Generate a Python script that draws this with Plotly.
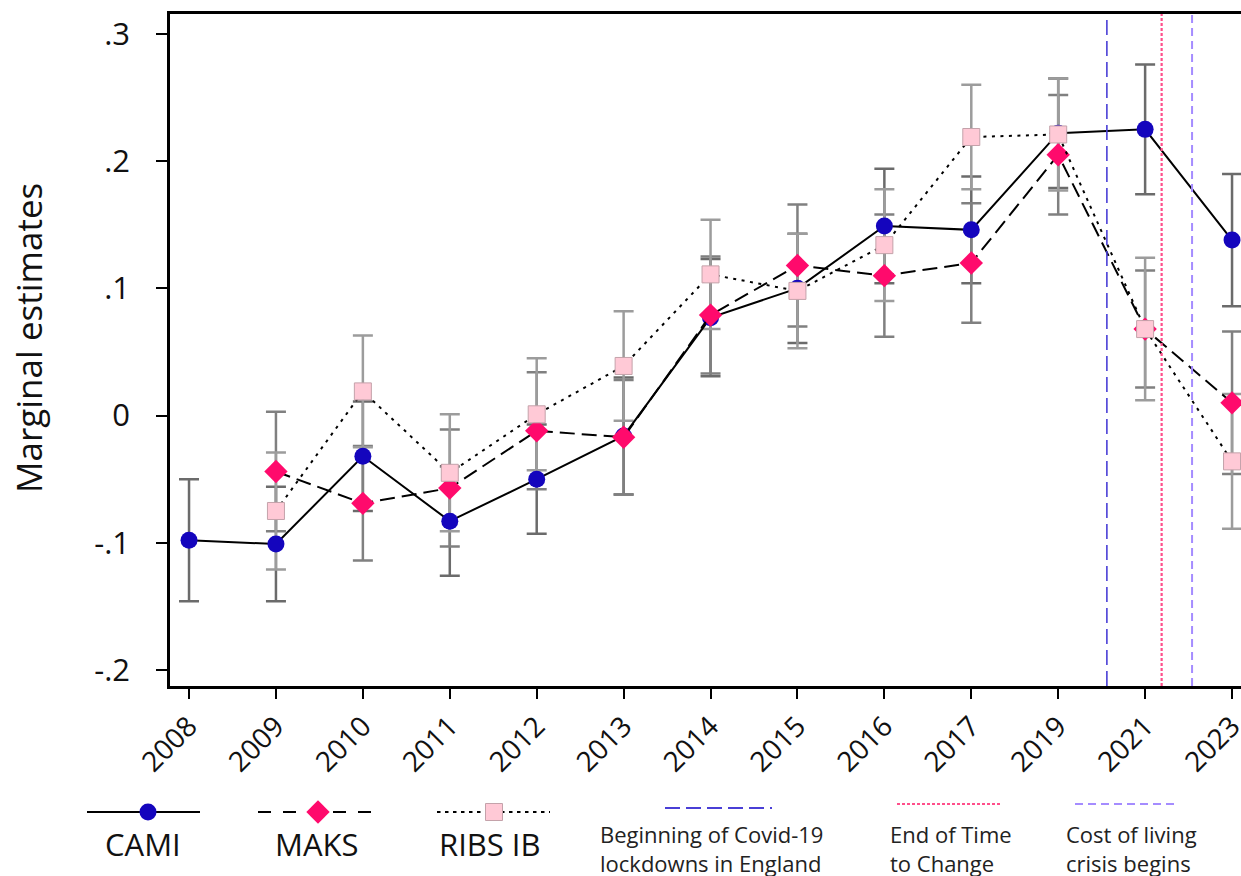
import plotly.graph_objects as go

# ---------------- data ----------------
years = ['2008', '2009', '2010', '2011', '2012', '2013', '2014', '2015', '2016', '2017', '2019', '2021', '2023']
cami = [-0.098, -0.101, -0.032, -0.083, -0.050, -0.016, 0.077, 0.100, 0.149, 0.146, 0.222, 0.225, 0.138]
cami_err = [0.048, 0.045, 0.043, 0.043, 0.043, 0.046, 0.046, 0.043, 0.045, 0.042, 0.043, 0.051, 0.052]
maks = [None, -0.044, -0.069, -0.057, -0.012, -0.017, 0.079, 0.118, 0.110, 0.120, 0.205, 0.068, 0.010]
maks_err = [None, 0.047, 0.045, 0.046, 0.046, 0.045, 0.046, 0.048, 0.048, 0.047, 0.047, 0.046, 0.056]
ribs = [None, -0.075, 0.019, -0.045, 0.001, 0.039, 0.111, 0.098, 0.134, 0.219, 0.221, 0.068, -0.036]
ribs_err = [None, 0.046, 0.044, 0.046, 0.044, 0.043, 0.043, 0.045, 0.044, 0.041, 0.044, 0.056, 0.053]

series_names = ['CAMI', 'MAKS', 'RIBS IB']
event_names = ['Beginning of Covid-19<br>lockdowns in England', 'End of Time<br>to Change',
               'Cost of living<br>crisis begins']
event_pos = [10.56, 11.19, 11.54]  # positions on the category axis (between 2019 and 2023)

y_ticks = [-0.2, -0.1, 0, 0.1, 0.2, 0.3]
y_tick_text = ['-.2', '-.1', '0', '.1', '.2', '.3']
y_title = 'Marginal estimates'

# ---------------- styles ----------------
FONT = 'Open Sans'
W, H = 1241, 876
styles = [
    dict(color='#1405bd', symbol='circle', size=17, dash='solid', ldash='solid', ecol='#6b6b6b',
         line=dict(width=0)),
    dict(color='#ff0a6c', symbol='diamond', size=18, dash='15px,7px', ldash='13px,12px', ecol='#808080',
         line=dict(width=0)),
    dict(color='#ffc9d6', symbol='square', size=17, dash='3px,5.5px', ldash='3.5px,4.5px', ecol='#9c9c9c',
         line=dict(width=1, color='#c4a2aa')),
]
event_styles = [
    dict(color='#4a3fd6', dash='15px,6px', width=1.6),
    dict(color='#ff4f8b', dash='3px,2px', width=2.2),
    dict(color='#a58cff', dash='8px,5px', width=2),
]

vals = [cami, maks, ribs]
errs = [cami_err, maks_err, ribs_err]

fig = go.Figure()

# error bars first (behind everything)
for v, e, st in zip(vals, errs, styles):
    fig.add_trace(go.Scatter(
        x=years, y=v, mode='markers', marker=dict(color='rgba(0,0,0,0)', size=1),
        error_y=dict(type='data', array=e, color=st['ecol'], thickness=2.5, width=10, visible=True),
        showlegend=False, hoverinfo='skip', xaxis='x', yaxis='y'))

# lines + markers
for v, st, name in zip(vals, styles, series_names):
    fig.add_trace(go.Scatter(
        x=years, y=v, mode='lines+markers', name=name,
        line=dict(color='black', width=2, dash=st['dash']),
        marker=dict(color=st['color'], symbol=st['symbol'], size=st['size'], line=st['line']),
        showlegend=False, connectgaps=False, xaxis='x', yaxis='y'))

# event vertical lines
for pos, est in zip(event_pos, event_styles):
    fig.add_shape(type='line', xref='x', yref='paper', x0=pos, x1=pos,
                  y0=190 / H, y1=(H - 14) / H,
                  line=dict(color=est['color'], dash=est['dash'], width=est['width']))

# ---------------- custom legend (pixel space axes) ----------------
leg_line_x = [(87, 200), (258, 378), (437, 550)]
leg_mark_x = [148, 318, 494]
leg_label_x = [143, 316, 490]
for (x0, x1), mx, lx, st, name in zip(leg_line_x, leg_mark_x, leg_label_x, styles, series_names):
    fig.add_trace(go.Scatter(x=[x0, x1], y=[812, 812], mode='lines',
                             line=dict(color='black', width=2.2, dash=st['ldash']),
                             xaxis='x2', yaxis='y2', showlegend=False, hoverinfo='skip', cliponaxis=False))
    fig.add_trace(go.Scatter(x=[mx], y=[812], mode='markers',
                             marker=dict(color=st['color'], symbol=st['symbol'], size=st['size'], line=st['line']),
                             xaxis='x2', yaxis='y2', showlegend=False, hoverinfo='skip', cliponaxis=False))
    fig.add_annotation(x=lx, y=844, xref='x2', yref='y2', text=name, showarrow=False,
                       font=dict(family=FONT, size=31, color='#111'), xanchor='center', yanchor='middle')

ev_line_x = [(665, 772), (897, 1002), (1075, 1178)]
ev_line_y = [808, 804, 804]
ev_label_x = [598, 888, 1064]
for (x0, x1), ly, lx, est, name in zip(ev_line_x, ev_line_y, ev_label_x, event_styles, event_names):
    fig.add_trace(go.Scatter(x=[x0, x1], y=[ly, ly], mode='lines',
                             line=dict(color=est['color'], width=2.2, dash=est['dash']),
                             xaxis='x2', yaxis='y2', showlegend=False, hoverinfo='skip', cliponaxis=False))
    fig.add_annotation(x=lx, y=848, xref='x2', yref='y2', text=name, showarrow=False, align='left',
                       font=dict(family=FONT, size=22, color='#222'), xanchor='left', yanchor='middle')

# y-axis title placed as text annotation
fig.add_annotation(x=28, y=338, xref='x2', yref='y2', text=y_title, showarrow=False, textangle=-90,
                   font=dict(family=FONT, size=35, color='#111'), xanchor='center', yanchor='middle')

left = 170 / W
bottom = 190 / H
top = (H - 14) / H
xr = [(-0.219), (1241 - 189) / 86.92]

fig.update_layout(
    width=W, height=H,
    margin=dict(l=0, r=0, t=0, b=0),
    paper_bgcolor='white', plot_bgcolor='rgba(0,0,0,0)',
    font=dict(family=FONT, color='#111'),
    showlegend=False,
    xaxis=dict(domain=[left, 1], anchor='y', type='category', range=xr,
               showline=True, linecolor='black', linewidth=2.5, mirror=True,
               ticks='outside', ticklen=10, tickwidth=2, tickcolor='black',
               tickangle=-45, tickfont=dict(family=FONT, size=28, color='#111'),
               showgrid=False, zeroline=False, automargin=False),
    yaxis=dict(domain=[bottom, top], anchor='x', range=[-0.2126, 0.3157],
               tickvals=y_ticks, ticktext=y_tick_text,
               showline=True, linecolor='black', linewidth=2.5, mirror=False,
               ticks='outside', ticklen=11, tickwidth=2, tickcolor='black',
               tickfont=dict(family=FONT, size=31, color='#111'), ticklabelstandoff=20,
               showgrid=False, zeroline=False, automargin=False),
    xaxis2=dict(domain=[0, 1], anchor='y2', range=[0, W], visible=False, fixedrange=True),
    yaxis2=dict(domain=[0, 1], anchor='x2', range=[H, 0], visible=False, fixedrange=True),
)

fig.write_html('out.html', config={'displayModeBar': False},
               post_script="document.body.style.margin='0';document.body.style.overflow='hidden';")
